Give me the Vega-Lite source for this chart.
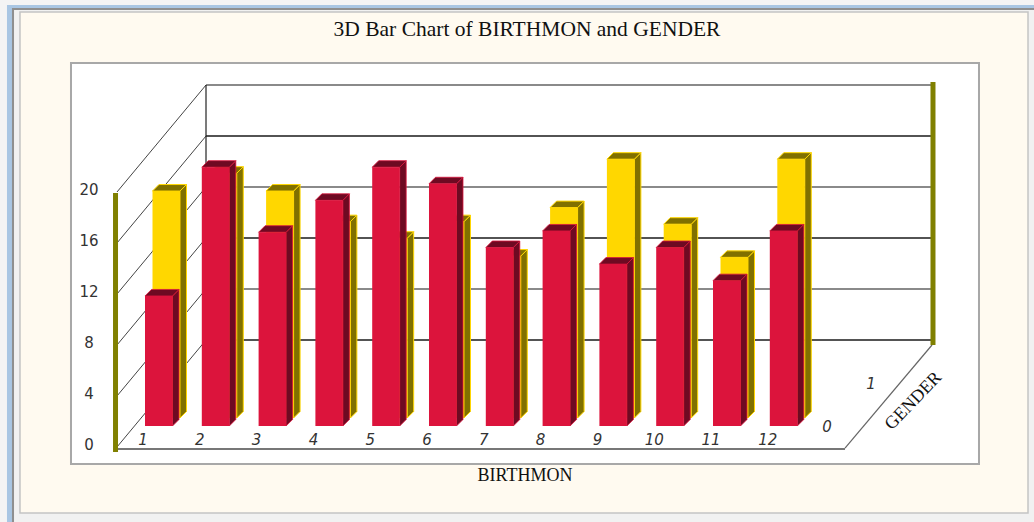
{
"$schema":"https://vega.github.io/schema/vega-lite/v6.json",
"width":1034,"height":522,"padding":0,"autosize":{"type":"none"},
"background":"#f4f4f4",
"title":{"text":"3D Bar Chart of BIRTHMON and GENDER","font":"Liberation Serif","fontSize":21.5,"fontWeight":"normal","color":"#111","anchor":"middle","frame":"group","offset":-37,"dy":3,"dx":10},
"config":{"view":{"stroke":null}},
"datasets":{
"bars":[
{"month":1,"gender":0,"count":10.2},{"month":2,"gender":0,"count":20.3},{"month":3,"gender":0,"count":15.2},{"month":4,"gender":0,"count":17.7},{"month":5,"gender":0,"count":20.3},{"month":6,"gender":0,"count":19.0},{"month":7,"gender":0,"count":14.0},{"month":8,"gender":0,"count":15.3},{"month":9,"gender":0,"count":12.7},{"month":10,"gender":0,"count":14.0},{"month":11,"gender":0,"count":11.4},{"month":12,"gender":0,"count":15.3},
{"month":1,"gender":1,"count":17.8},{"month":2,"gender":1,"count":19.2},{"month":3,"gender":1,"count":17.8},{"month":4,"gender":1,"count":15.4},{"month":5,"gender":1,"count":14.1},{"month":6,"gender":1,"count":15.4},{"month":7,"gender":1,"count":12.7},{"month":8,"gender":1,"count":16.5},{"month":9,"gender":1,"count":20.3},{"month":10,"gender":1,"count":15.2},{"month":11,"gender":1,"count":12.6},{"month":12,"gender":1,"count":20.3}
],
"levels":[{"level":0},{"level":4},{"level":8},{"level":12},{"level":16},{"level":20}],
"one":[{"k":1}],
"genders":[{"gender":0},{"gender":1}]
},
"layer":[
{"data":{"name":"one"},"mark":{"type":"rect","fill":"#a9c6e3"},"encoding":{
 "x":{"datum":-1.43,"type":"quantitative","scale":{"domain":[-1.5528,16.6514],"nice":false,"zero":false},"axis":null},
 "x2":{"datum":16.6514},
 "y":{"datum":34.667,"type":"quantitative","scale":{"domain":[-5.882,35.059],"nice":false,"zero":false},"axis":null},
 "y2":{"datum":-5.882}}},
{"data":{"name":"one"},"mark":{"type":"rect","fill":"#8f8f8f"},"encoding":{"x":{"datum":-1.342,"type":"quantitative","axis":null},"x2":{"datum":16.6514},"y":{"datum":34.431,"type":"quantitative","axis":null},"y2":{"datum":-5.882}}},
{"data":{"name":"one"},"mark":{"type":"rect","fill":"#f1f1f1"},"encoding":{"x":{"datum":-1.306,"type":"quantitative","axis":null},"x2":{"datum":16.6514},"y":{"datum":34.275,"type":"quantitative","axis":null},"y2":{"datum":-5.882}}},
{"data":{"name":"one"},"mark":{"type":"rect","fill":"#fffaf0","stroke":"#c4c4c4","strokeWidth":1.5},"encoding":{"x":{"datum":-1.201,"type":"quantitative","axis":null},"x2":{"datum":16.546},"y":{"datum":34.118,"type":"quantitative","axis":null},"y2":{"datum":-5.176}}},
{"data":{"name":"one"},"mark":{"type":"rect","fill":"#ffffff","stroke":"#a8a8a8","strokeWidth":2},"encoding":{"x":{"datum":-0.303,"type":"quantitative","axis":null},"x2":{"datum":15.683},"y":{"datum":30.118,"type":"quantitative","axis":null},"y2":{"datum":-1.333}}},
{"data":{"name":"levels"},"transform":[{"calculate":"datum.level+8.39","as":"back"}],"mark":{"type":"rule"},"encoding":{
 "x":{"datum":2.074,"type":"quantitative","axis":null},"x2":{"datum":14.856},
 "y":{"field":"back","type":"quantitative","axis":null},
 "stroke":{"condition":{"test":"datum.level%8==0","value":"#1a1a1a"},"value":"#8a8a8a"},
 "strokeWidth":{"condition":{"test":"datum.level%8==0","value":1.5},"value":2}}},
{"data":{"name":"levels"},"transform":[{"calculate":"datum.level+8.39","as":"back"}],"mark":{"type":"rule","stroke":"#444","strokeWidth":1},"encoding":{
 "x":{"datum":0.507,"type":"quantitative","axis":null},"x2":{"datum":2.074},
 "y":{"field":"level","type":"quantitative","axis":null},"y2":{"field":"back"}}},
{"data":{"name":"one"},"mark":{"type":"rule","stroke":"#222","strokeWidth":1.2},"encoding":{"x":{"datum":2.074,"type":"quantitative","axis":null},"y":{"datum":8.39,"type":"quantitative","axis":null},"y2":{"datum":28.39}}},
{"data":{"name":"one"},"mark":{"type":"rule","stroke":"#777","strokeWidth":2},"encoding":{"x":{"datum":0.507,"type":"quantitative","axis":null},"x2":{"datum":13.324},"y":{"datum":-0.157,"type":"quantitative","axis":null}}},
{"data":{"name":"one"},"mark":{"type":"rule","stroke":"#666","strokeWidth":1.2},"encoding":{"x":{"datum":13.324,"type":"quantitative","axis":null},"x2":{"datum":14.856},"y":{"datum":-0.08,"type":"quantitative","axis":null},"y2":{"datum":8.0}}},
{"data":{"name":"one"},"mark":{"type":"rule","stroke":"#808000","strokeWidth":5},"encoding":{"x":{"datum":0.481,"type":"quantitative","axis":null},"y":{"datum":-0.39,"type":"quantitative","axis":null},"y2":{"datum":19.92}}},
{"data":{"name":"one"},"mark":{"type":"rule","stroke":"#808000","strokeWidth":5},"encoding":{"x":{"datum":14.873,"type":"quantitative","axis":null},"y":{"datum":8.0,"type":"quantitative","axis":null},"y2":{"datum":28.63}}},
{"data":{"name":"bars"},
 "transform":[{"filter":"datum.gender==1"},{"calculate":"[0,1]","as":"k"},{"flatten":["k"]},
  {"calculate":"datum.month+0.132","as":"left"},{"calculate":"datum.left+0.484","as":"right"},
  {"calculate":"2.275","as":"base"},{"calculate":"datum.count+datum.base","as":"top"},
  {"calculate":"datum.right+datum.k*0.1144","as":"sx"},{"calculate":"datum.top+datum.k*0.51","as":"st"},{"calculate":"datum.base+datum.k*0.51","as":"sb"},
  {"calculate":"datum.left+datum.k*0.1144","as":"tl"}],
 "layer":[
 {"mark":{"type":"area","fill":"#807000","stroke":"#ffd700","strokeWidth":1,"orient":"vertical"},"encoding":{"x":{"field":"sx","type":"quantitative","axis":null},"y":{"field":"st","type":"quantitative","axis":null,"stack":null},"y2":{"field":"sb"},"detail":{"field":"month"}}},
 {"mark":{"type":"area","fill":"#807000","stroke":"#ffd700","strokeWidth":1,"orient":"horizontal"},"encoding":{"y":{"field":"st","type":"quantitative","axis":null},"x":{"field":"tl","type":"quantitative","axis":null,"stack":null},"x2":{"field":"sx"},"detail":{"field":"month"}}},
 {"transform":[{"filter":"datum.k==0"}],"mark":{"type":"rect","fill":"#ffd700"},"encoding":{"x":{"field":"left","type":"quantitative","axis":null},"x2":{"field":"right"},"y":{"field":"top","type":"quantitative","axis":null},"y2":{"field":"base"}}}
 ]},
{"data":{"name":"bars"},
 "transform":[{"filter":"datum.gender==0"},{"calculate":"[0,1]","as":"k"},{"flatten":["k"]},
  {"calculate":"datum.month","as":"left"},{"calculate":"datum.left+0.484","as":"right"},
  {"calculate":"1.647","as":"base"},{"calculate":"datum.count+datum.base","as":"top"},
  {"calculate":"datum.right+datum.k*0.1144","as":"sx"},{"calculate":"datum.top+datum.k*0.51","as":"st"},{"calculate":"datum.base+datum.k*0.51","as":"sb"},
  {"calculate":"datum.left+datum.k*0.1144","as":"tl"}],
 "layer":[
 {"mark":{"type":"area","fill":"#6e0a22","stroke":"#dc143c","strokeWidth":0.8,"orient":"vertical"},"encoding":{"x":{"field":"sx","type":"quantitative","axis":null},"y":{"field":"st","type":"quantitative","axis":null,"stack":null},"y2":{"field":"sb"},"detail":{"field":"month"}}},
 {"mark":{"type":"area","fill":"#6e0a22","stroke":"#dc143c","strokeWidth":0.8,"orient":"horizontal"},"encoding":{"y":{"field":"st","type":"quantitative","axis":null},"x":{"field":"tl","type":"quantitative","axis":null,"stack":null},"x2":{"field":"sx"},"detail":{"field":"month"}}},
 {"transform":[{"filter":"datum.k==0"}],"mark":{"type":"rect","fill":"#dc143c"},"encoding":{"x":{"field":"left","type":"quantitative","axis":null},"x2":{"field":"right"},"y":{"field":"top","type":"quantitative","axis":null},"y2":{"field":"base"}}}
 ]},
{"data":{"name":"bars"},"transform":[{"filter":"datum.gender==0"},{"calculate":"datum.month-0.035","as":"lx"},{"calculate":"0.55","as":"ly"}],"mark":{"type":"text","font":"DejaVu Sans","fontStyle":"italic","fontSize":15,"fill":"#333","baseline":"middle"},"encoding":{"x":{"field":"lx","type":"quantitative","axis":null},"y":{"field":"ly","type":"quantitative","axis":null},"text":{"field":"month","type":"nominal"}}},
{"data":{"name":"levels"},"transform":[{"calculate":"0.014","as":"lx"},{"calculate":"datum.level+0.157","as":"ly"}],"mark":{"type":"text","font":"DejaVu Sans","fontSize":15,"fill":"#333","baseline":"middle"},"encoding":{"x":{"field":"lx","type":"quantitative","axis":null},"y":{"field":"ly","type":"quantitative","axis":null},"text":{"field":"level","type":"nominal"}}},
{"data":{"name":"genders"},"transform":[{"calculate":"13.007+0.773*datum.gender","as":"gx"},{"calculate":"1.57+3.37*datum.gender","as":"gy"}],"mark":{"type":"text","font":"DejaVu Sans","fontStyle":"italic","fontSize":15,"fill":"#333","baseline":"middle"},"encoding":{"x":{"field":"gx","type":"quantitative","axis":null},"y":{"field":"gy","type":"quantitative","axis":null},"text":{"field":"gender","type":"nominal"}}},
{"data":{"name":"one"},"mark":{"type":"text","text":"BIRTHMON","font":"Liberation Serif","fontSize":18,"fill":"#111","baseline":"middle"},"encoding":{"x":{"datum":7.69,"type":"quantitative","axis":null},"y":{"datum":-2.275,"type":"quantitative","axis":null}}},
{"data":{"name":"one"},"mark":{"type":"text","text":"GENDER","font":"Liberation Serif","fontSize":18,"angle":314,"fill":"#111"},"encoding":{"x":{"datum":14.53,"type":"quantitative","axis":null},"y":{"datum":3.6,"type":"quantitative","axis":null}}}
]
}
